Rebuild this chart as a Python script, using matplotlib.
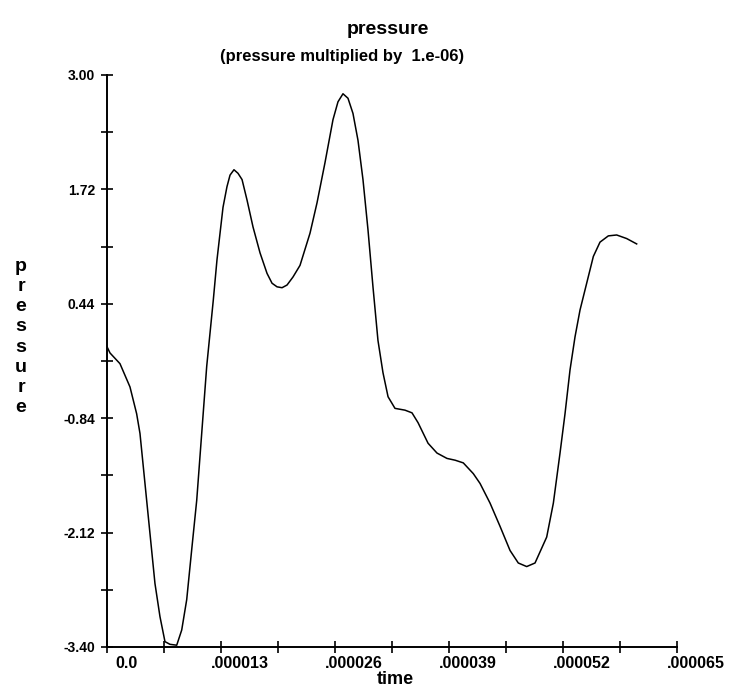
import matplotlib
matplotlib.use("Agg")
import matplotlib.pyplot as plt
import matplotlib.transforms as mtransforms
import numpy as np

# time in units of 1e-6 s, pressure already multiplied by 1e-6
time_us = [0.00, 0.34, 1.48, 2.62, 3.38, 3.76, 4.33, 4.90, 5.47, 6.04, 6.61,
           7.18, 7.95, 8.52, 9.09, 9.66, 10.23, 10.80, 11.37, 12.12, 12.54,
           12.89, 13.23, 13.68, 14.03, 14.48, 14.94, 15.40, 15.97, 16.65,
           17.45, 18.25, 18.82, 19.39, 19.96, 20.53, 21.21, 22.01, 23.15,
           23.95, 24.86, 25.77, 26.34, 26.91, 27.48, 28.05, 28.62, 29.19,
           29.76, 30.33, 30.90, 31.47, 32.05, 32.84, 33.98, 34.78, 35.47,
           36.61, 37.63, 38.77, 39.70, 40.63, 41.77, 42.54, 43.68, 44.82,
           45.96, 46.90, 47.86, 48.81, 50.14, 50.90, 51.66, 52.23, 52.80,
           53.37, 53.94, 54.70, 55.46, 56.22, 57.17, 58.12, 59.26, 60.40]
pressure = [-0.04, -0.11, -0.23, -0.49, -0.79, -1.01, -1.57, -2.13, -2.69,
            -3.06, -3.34, -3.37, -3.38, -3.21, -2.87, -2.31, -1.76, -1.01,
            -0.26, 0.48, 0.93, 1.23, 1.52, 1.75, 1.88, 1.94, 1.90, 1.83, 1.60,
            1.30, 1.01, 0.78, 0.67, 0.63, 0.62, 0.65, 0.74, 0.87, 1.23, 1.57,
            2.02, 2.50, 2.70, 2.79, 2.74, 2.57, 2.27, 1.83, 1.27, 0.63, 0.03,
            -0.33, -0.60, -0.73, -0.75, -0.78, -0.89, -1.12, -1.23, -1.29,
            -1.31, -1.34, -1.46, -1.57, -1.79, -2.05, -2.32, -2.46, -2.50,
            -2.46, -2.17, -1.79, -1.23, -0.79, -0.30, 0.07, 0.37, 0.67, 0.97,
            1.13, 1.20, 1.21, 1.17, 1.11]

x_major = [0.0, 0.000013, 0.000026, 0.000039, 0.000052, 0.000065]
x_labels = ["0.0", ".000013", ".000026", ".000039", ".000052", ".000065"]
x_minor = [0.0000065, 0.0000195, 0.0000325, 0.0000455, 0.0000585]
y_major = [-3.40, -2.12, -0.84, 0.44, 1.72, 3.00]
y_labels = ["-3.40", "-2.12", "-0.84", "0.44", "1.72", "3.00"]
y_minor = [-2.76, -1.48, -0.20, 1.08, 2.36]

plt.rcParams['font.family'] = ['Liberation Sans', 'DejaVu Sans']
plt.rcParams['font.weight'] = 'bold'

fig = plt.figure(figsize=(7.31, 6.91), dpi=100)
ax = fig.add_axes([107/731, 44/691, 570/731, 572/691])

t = np.array(time_us) * 1e-6
ax.plot(t, pressure, color='black', lw=1.1, solid_joinstyle='round')

ax.set_xlim(0, 0.000065)
ax.set_ylim(-3.40, 3.00)

for s in ['top', 'right']:
    ax.spines[s].set_visible(False)
for s in ['left', 'bottom']:
    ax.spines[s].set_linewidth(1.4)
    ax.spines[s].set_color('black')

ax.set_xticks(x_major)
ax.set_xticklabels(x_labels)
ax.set_xticks(x_minor, minor=True)
ax.set_yticks(y_major)
ax.set_yticklabels(y_labels)
ax.set_yticks(y_minor, minor=True)

ax.tick_params(which='both', direction='inout', length=9, width=1.2, color='black')
ax.tick_params(axis='x', labelsize=11.5, pad=2)
ax.tick_params(axis='y', labelsize=10, pad=4)

offset = mtransforms.ScaledTranslation(19/100, 0, fig.dpi_scale_trans)
for lab in ax.get_xticklabels():
    lab.set_transform(lab.get_transform() + offset)
    lab.set_fontweight('bold')
for lab in ax.get_yticklabels():
    lab.set_fontweight('bold')

fig.text(388/731, 1 - 30/691, "pressure", ha='center', va='center',
         fontsize=14, fontweight='bold')
fig.text(342/731, 1 - 56/691, "(pressure multiplied by  1.e-06)", ha='center',
         va='center', fontsize=12, fontweight='bold')
fig.text(395/731, 1 - 679/691, "time", ha='center', va='center',
         fontsize=13, fontweight='bold')
fig.text(21/731, 1 - 337/691, "p\nr\ne\ns\ns\nu\nr\ne", ha='center', va='center',
         fontsize=14, fontweight='bold', linespacing=1.25)

fig.savefig("out.png", dpi=100)
